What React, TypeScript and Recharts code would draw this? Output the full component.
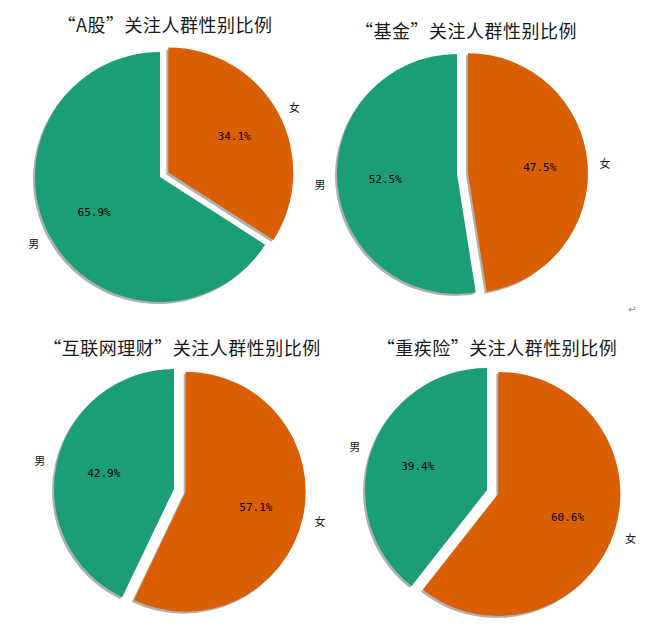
import React from "react";
import { PieChart, Pie, Cell } from "recharts";

// chart data
const titles = [
  "“A股”关注人群性别比例",
  "“基金”关注人群性别比例",
  "“互联网理财”关注人群性别比例",
  "“重疾险”关注人群性别比例",
];
const genders = ["男", "女"];
const maleShare = [65.9, 52.5, 42.9, 39.4];
const femaleShare = [34.1, 47.5, 57.1, 60.6];

const COLORS = ["#1b9e77", "#d95f02"];
const RAD = Math.PI / 180;
const CJK = '"Noto Sans CJK SC", sans-serif';
const MARGIN = { top: 0, right: 0, bottom: 0, left: 0 };

// where each pie sits in the 645x634 frame (explode = pixel offset per slice)
const panels = [
  { cx: 160, cy: 177, r: 125, explode: [0, 9.5], titleX: 165, titleY: 24 },
  { cx: 457, cy: 174, r: 120, explode: [0, 11], titleX: 466, titleY: 30 },
  { cx: 174, cy: 489, r: 120, explode: [0, 12], titleX: 182, titleY: 347 },
  { cx: 487, cy: 490, r: 122, explode: [0, 12], titleX: 497, titleY: 347 },
];

function sliceOffsets(values: number[], explode: number[]) {
  const total = values.reduce((a, b) => a + b, 0);
  let start = 90;
  return values.map((v, i) => {
    const sweep = (360 * v) / total;
    const mid = start + sweep / 2;
    start += sweep;
    return {
      dx: explode[i] * Math.cos(mid * RAD),
      dy: -explode[i] * Math.sin(mid * RAD),
    };
  });
}

const makeLabel = (explode: number[]) => (props: any) => {
  const { cx, cy, midAngle, outerRadius, index, value, name } = props;
  const d = explode[index];
  const cos = Math.cos(-midAngle * RAD);
  const sin = Math.sin(-midAngle * RAD);
  const ox = cx + d * cos;
  const oy = cy + d * sin;
  return (
    <g key={`lbl-${index}`}>
      <text
        x={ox + outerRadius * 0.6 * cos}
        y={oy + outerRadius * 0.6 * sin}
        textAnchor="middle"
        dominantBaseline="central"
        fontSize={11}
        fontFamily='"DejaVu Sans Mono", monospace'
        fill="#000"
      >
        {`${Number(value).toFixed(1)}%`}
      </text>
      <text
        x={ox + outerRadius * 1.1 * cos}
        y={oy + outerRadius * 1.1 * sin}
        textAnchor={cos >= 0 ? "start" : "end"}
        dominantBaseline="central"
        fontSize={11}
        fontFamily={CJK}
        fill="#222"
      >
        {name}
      </text>
    </g>
  );
};

export default function App() {
  return (
    <div
      style={{
        position: "absolute",
        left: 0,
        top: 0,
        width: 645,
        height: 634,
        background: "#fff",
      }}
    >
      <PieChart width={645} height={634} margin={MARGIN}>
        {panels.map((p, k) => {
          const values = [maleShare[k], femaleShare[k]];
          const data = genders.map((g, i) => ({ name: g, value: values[i] }));
          const offs = sliceOffsets(values, p.explode);
          return [
            <Pie
              key={`shadow-${k}`}
              data={data}
              dataKey="value"
              nameKey="name"
              cx={p.cx}
              cy={p.cy}
              outerRadius={p.r}
              startAngle={90}
              endAngle={450}
              stroke="none"
              label={false}
              labelLine={false}
              isAnimationActive={false}
            >
              {offs.map((o, i) => (
                <Cell
                  key={i}
                  fill="#6f6f6f"
                  fillOpacity={0.55}
                  transform={`translate(${o.dx - 2},${o.dy + 2})`}
                />
              ))}
            </Pie>,
            <Pie
              key={`pie-${k}`}
              data={data}
              dataKey="value"
              nameKey="name"
              cx={p.cx}
              cy={p.cy}
              outerRadius={p.r}
              startAngle={90}
              endAngle={450}
              stroke="none"
              label={makeLabel(p.explode)}
              labelLine={false}
              isAnimationActive={false}
            >
              {offs.map((o, i) => (
                <Cell
                  key={i}
                  fill={COLORS[i]}
                  transform={`translate(${o.dx},${o.dy})`}
                />
              ))}
            </Pie>,
          ];
        })}
      </PieChart>
      {panels.map((p, k) => (
        <div
          key={`title-${k}`}
          style={{
            position: "absolute",
            left: p.titleX,
            top: p.titleY,
            transform: "translate(-50%, -50%)",
            whiteSpace: "nowrap",
            fontFamily: CJK,
            fontSize: 18,
            letterSpacing: 0.5,
            color: "#1a1a1a",
          }}
        >
          {titles[k]}
        </div>
      ))}
      <div
        style={{
          position: "absolute",
          left: 628,
          top: 304,
          fontSize: 10,
          color: "#888",
          fontFamily: "DejaVu Sans",
        }}
      >
        ↵
      </div>
    </div>
  );
}
